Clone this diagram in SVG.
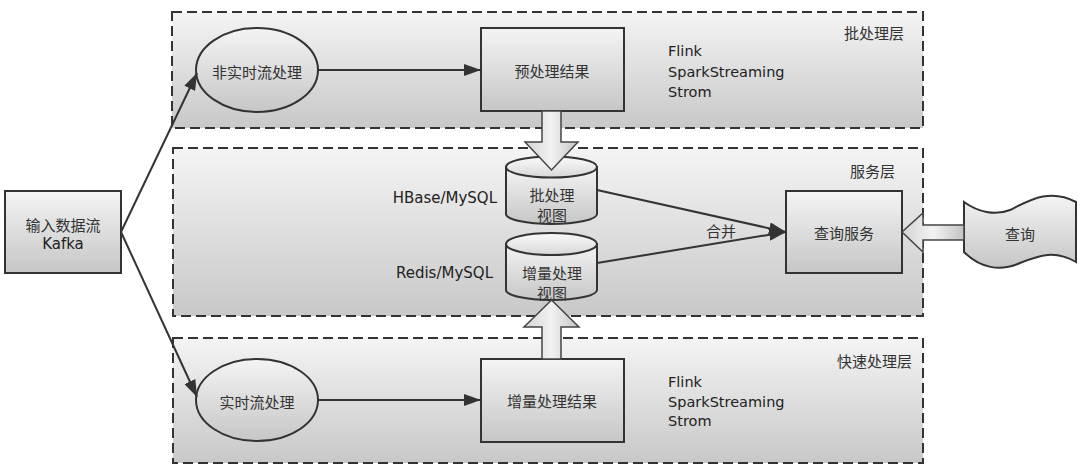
<svg xmlns="http://www.w3.org/2000/svg" width="1080" height="473" viewBox="0 0 1080 473">
<style>
.layer{stroke:#333;stroke-width:2;stroke-dasharray:10,5;fill:url(#gLayer)}
.node{stroke:#333;stroke-width:2;fill:url(#gNode)}
.cap{stroke:#333;stroke-width:2;fill:url(#gCap)}
.blk{stroke:#444;stroke-width:1.5;fill:url(#gBlk)}
.line{stroke:#333;stroke-width:2;fill:none}
.cn{font-family:"Noto Sans CJK SC","Noto Sans",sans-serif;font-size:15px;fill:#333;text-anchor:middle;dominant-baseline:central}
.lt{font-family:"DejaVu Sans","Noto Sans",sans-serif;font-size:14.5px;fill:#222;dominant-baseline:central}
.lbl{font-family:"Noto Sans CJK SC","Noto Sans",sans-serif;font-size:15px;fill:#333;text-anchor:end;dominant-baseline:central}
</style>
<defs>
<linearGradient id="gLayer" x1="0" y1="0" x2="0" y2="1"><stop offset="0" stop-color="#f4f4f4"/><stop offset="1" stop-color="#c8c8c8"/></linearGradient>
<linearGradient id="gNode" x1="0" y1="0" x2="0" y2="1"><stop offset="0" stop-color="#f4f4f4"/><stop offset="1" stop-color="#c6c6c6"/></linearGradient>
<linearGradient id="gCap" x1="0" y1="0" x2="0" y2="1"><stop offset="0" stop-color="#fafafa"/><stop offset="1" stop-color="#d8d8d8"/></linearGradient>
<linearGradient id="gBlk" x1="0" y1="0" x2="1" y2="0"><stop offset="0" stop-color="#d4d4d4"/><stop offset="0.5" stop-color="#f2f2f2"/><stop offset="1" stop-color="#c4c4c4"/></linearGradient>
<marker id="arr" markerUnits="userSpaceOnUse" markerWidth="18" markerHeight="12" refX="17" refY="6" orient="auto"><path d="M0,0 L17,6 L0,12 Z" fill="#333"/></marker>
</defs>
<g id="batch-layer"><rect class="layer" x="172" y="12" width="751" height="116"/><text class="lbl" x="904" y="32">批处理层</text><text class="lt" x="668" y="51">Flink</text><text class="lt" x="668" y="72">SparkStreaming</text><text class="lt" x="668" y="92">Strom</text></g>
<g id="service-layer"><rect class="layer" x="173" y="148" width="750" height="168"/><text class="lbl" x="895" y="170">服务层</text></g>
<g id="fast-layer"><rect class="layer" x="173" y="338" width="750" height="125"/><text class="lbl" x="912" y="360">快速处理层</text><text class="lt" x="668" y="382">Flink</text><text class="lt" x="668" y="402">SparkStreaming</text><text class="lt" x="668" y="421">Strom</text></g>
<g id="input"><rect class="node" x="5" y="191" width="116" height="82"/><text class="cn" x="63" y="224">输入数据流</text><text class="lt" x="63" y="244" text-anchor="middle" style="font-size:15px">Kafka</text></g>
<g id="batch-proc"><ellipse class="node" cx="257" cy="70" rx="61" ry="42"/><text class="cn" x="257" y="71">非实时流处理</text></g>
<g id="pre-result"><rect class="node" x="481" y="28" width="143" height="83"/><text class="cn" x="552" y="70">预处理结果</text></g>
<g id="rt-proc"><ellipse class="node" cx="257" cy="400" rx="61" ry="41"/><text class="cn" x="257" y="401">实时流处理</text></g>
<g id="inc-result"><rect class="node" x="481" y="359" width="143" height="83"/><text class="cn" x="552" y="400">增量处理结果</text></g>
<g id="batch-view"><path class="node" d="M506,167 L506,214 A45.5,10 0 0 0 597,214 L597,167 Z"/><ellipse class="cap" cx="551.5" cy="167" rx="45.5" ry="10.5"/><text class="cn" x="552" y="194">批处理</text><text class="cn" x="552" y="214">视图</text><text class="lt" x="497" y="198" text-anchor="end" style="font-size:15px">HBase/MySQL</text></g>
<g id="inc-view"><path class="node" d="M506,244 L506,290 A45.5,10 0 0 0 597,290 L597,244 Z"/><ellipse class="cap" cx="551.5" cy="244" rx="45.5" ry="11"/><text class="cn" x="552" y="272">增量处理</text><text class="cn" x="552" y="292">视图</text><text class="lt" x="493" y="273" text-anchor="end" style="font-size:15px">Redis/MySQL</text></g>
<g id="query-service"><rect class="node" x="786" y="191" width="116" height="82"/><text class="cn" x="844" y="232">查询服务</text></g>
<g id="query"><path class="node" d="M964,202 C978,212 995,216 1010,210 C1030,200 1050,188 1076,202 L1076,262 C1055,250 1040,255 1020,263 C1000,272 980,268 964,252 Z"/><text class="cn" x="1020" y="233">查询</text></g>
<g id="connectors">
<path class="line" d="M121,232 L197,73" marker-end="url(#arr)"/>
<path class="line" d="M121,232 L197,397" marker-end="url(#arr)"/>
<path class="line" d="M318,70 L481,70" marker-end="url(#arr)"/>
<path class="line" d="M318,400 L481,400" marker-end="url(#arr)"/>
<path class="line" d="M597,190 L786,232" marker-end="url(#arr)"/>
<path class="line" d="M597,263 L786,232" marker-end="url(#arr)"/>
<text class="cn" x="721" y="230">合并</text>
<path class="blk" d="M542,111 L561,111 L561,142 L578,142 L551.5,170 L525,142 L542,142 Z"/>
<path class="blk" d="M542,359 L561,359 L561,327 L579,327 L551.5,300 L524,327 L542,327 Z"/>
<path class="blk" d="M964,225 L923,225 L923,213 L902,232 L923,252 L923,240 L964,240 Z"/>
</g>
</svg>
